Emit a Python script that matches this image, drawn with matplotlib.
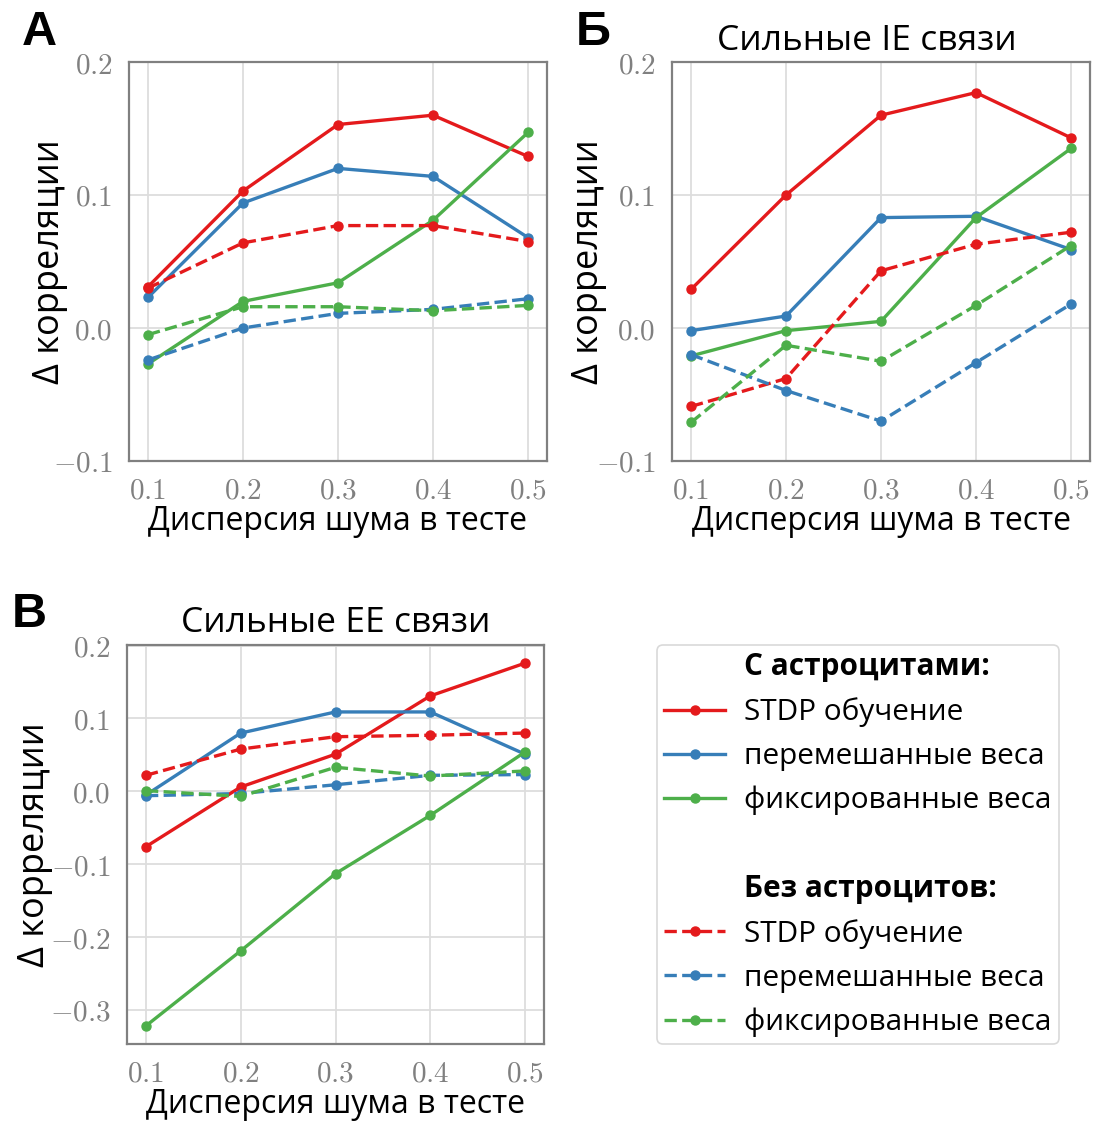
import numpy as np
import matplotlib
matplotlib.use('Agg')
import matplotlib.pyplot as plt
from matplotlib.lines import Line2D
from matplotlib.ticker import FuncFormatter

plt.rcParams['mathtext.fontset'] = 'cm'
plt.rcParams['font.family'] = ['Open Sans', 'DejaVu Sans']

# noise variance in test
noise = [0.1, 0.2, 0.3, 0.4, 0.5]

# panel A (all connections)
a_stdp_astro = [0.031, 0.103, 0.153, 0.160, 0.129]
a_shuf_astro = [0.023, 0.094, 0.120, 0.114, 0.068]
a_fix_astro = [-0.027, 0.020, 0.034, 0.081, 0.147]
a_stdp_noastro = [0.030, 0.064, 0.077, 0.077, 0.065]
a_shuf_noastro = [-0.024, 0.000, 0.011, 0.014, 0.022]
a_fix_noastro = [-0.005, 0.016, 0.016, 0.013, 0.017]

# panel B (strong IE)
b_stdp_astro = [0.029, 0.100, 0.160, 0.177, 0.143]
b_shuf_astro = [-0.002, 0.009, 0.083, 0.084, 0.059]
b_fix_astro = [-0.021, -0.002, 0.005, 0.083, 0.135]
b_stdp_noastro = [-0.059, -0.038, 0.043, 0.063, 0.072]
b_shuf_noastro = [-0.020, -0.047, -0.070, -0.026, 0.018]
b_fix_noastro = [-0.071, -0.013, -0.025, 0.017, 0.062]

# panel V (strong EE)
c_stdp_astro = [-0.076, 0.006, 0.051, 0.131, 0.176]
c_shuf_astro = [-0.005, 0.080, 0.109, 0.109, 0.051]
c_fix_astro = [-0.322, -0.219, -0.113, -0.033, 0.054]
c_stdp_noastro = [0.022, 0.058, 0.075, 0.077, 0.080]
c_shuf_noastro = [-0.006, -0.003, 0.009, 0.022, 0.023]
c_fix_noastro = [0.001, -0.007, 0.033, 0.021, 0.028]

colors = ['#e41a1c', '#377eb8', '#4daf4a']
labels = ['STDP обучение', 'перемешанные веса', 'фиксированные веса']

LW, MS = 2.4, 6.5

W, H = 1096, 1124
fig = plt.figure(figsize=(W / 100, H / 100), dpi=100)


def box(l, t, r, b):
    return [l / W, 1 - b / H, (r - l) / W, (b - t) / H]


def panel(rect, astro, noastro, ylab_x, ylim=None, title=None, title_x=0.5):
    ax = fig.add_axes(rect)
    for vals, c in zip(astro, colors):
        ax.plot(noise, vals, '-o', color=c, lw=LW, ms=MS)
    for vals, c in zip(noastro, colors):
        ax.plot(noise, vals, '--o', color=c, lw=LW, ms=MS)
    if ylim:
        ax.set_ylim(*ylim)
    ax.set_xticks(noise)
    ax.xaxis.set_major_formatter(FuncFormatter(lambda v, p: '$%.1f$' % v))
    ax.yaxis.set_major_formatter(FuncFormatter(lambda v, p: '$%.1f$' % v))
    ax.yaxis.set_major_locator(plt.MultipleLocator(0.1))
    ax.tick_params(length=0, labelsize=21, labelcolor='#808080')
    ax.tick_params(axis='y', pad=12)
    ax.tick_params(axis='x', pad=11)
    ax.grid(True, color='#dddddd', lw=1.3)
    ax.set_axisbelow(True)
    for s in ax.spines.values():
        s.set_color('#808080')
        s.set_linewidth(1.6)
    ax.set_xlabel('Дисперсия шума в тесте', fontsize=23, labelpad=0)
    ax.set_ylabel('Δ корреляции', fontsize=26)
    ax.yaxis.set_label_coords(ylab_x, 0.5)
    if title:
        ax.set_title(title, fontsize=25.5, pad=9, x=title_x)
    return ax


axA = panel(box(129, 62, 547, 461),
            [a_stdp_astro, a_shuf_astro, a_fix_astro],
            [a_stdp_noastro, a_shuf_noastro, a_fix_noastro],
            ylab_x=-0.146, ylim=(-0.1, 0.2))
axB = panel(box(672, 62, 1090, 461),
            [b_stdp_astro, b_shuf_astro, b_fix_astro],
            [b_stdp_noastro, b_shuf_noastro, b_fix_noastro],
            ylab_x=-0.155, ylim=(-0.1, 0.2),
            title='Сильные IE связи', title_x=0.467)
axC = panel(box(127, 645, 544, 1044),
            [c_stdp_astro, c_shuf_astro, c_fix_astro],
            [c_stdp_noastro, c_shuf_noastro, c_fix_noastro],
            ylab_x=-0.178, title='Сильные EE связи')

# panel letters
for txt, x, y in [('А', 22, 10), ('Б', 576, 10), ('В', 12, 592)]:
    fig.text(x / W, 1 - y / H, txt, fontsize=35, fontweight='bold',
             family='Liberation Sans', va='top', ha='left')

# legend
blank = Line2D([], [], color='none')
handles = [blank]
names = ['С астроцитами:']
for c, lab in zip(colors, labels):
    handles.append(Line2D([], [], color=c, ls='-', marker='o', lw=LW, ms=MS))
    names.append(lab)
handles.append(blank)
names.append(' ')
handles.append(blank)
names.append('Без астроцитов:')
for c, lab in zip(colors, labels):
    handles.append(Line2D([], [], color=c, ls='--', marker='o', lw=LW, ms=MS))
    names.append(lab)

leg = fig.legend(handles, names, loc='upper left',
                 bbox_to_anchor=(657 / W, 1 - 645 / H), borderaxespad=0,
                 fontsize=21.4, frameon=True, fancybox=True, edgecolor='#d0d0d0',
                 handlelength=2.05, handletextpad=0.62, labelspacing=0.5,
                 borderpad=0.25)
leg.get_frame().set_linewidth(1.2)
for t in leg.get_texts():
    if t.get_text().endswith(':'):
        t.set_fontweight('bold')

fig.savefig('out.png', dpi=100)
